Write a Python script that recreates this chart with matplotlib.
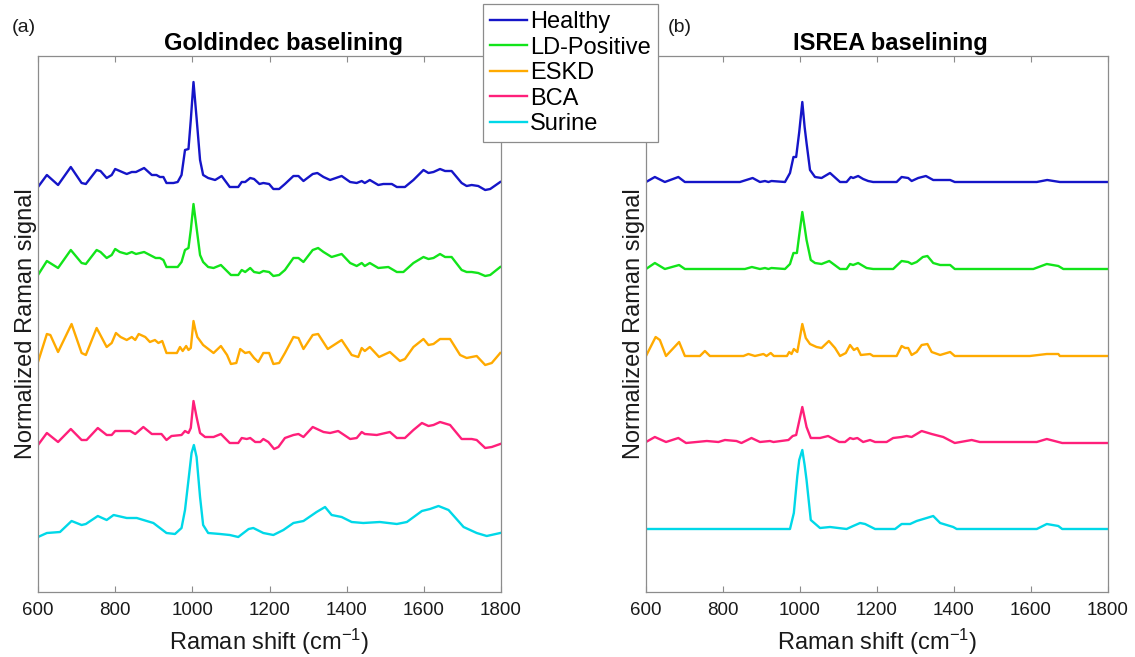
import matplotlib
matplotlib.use("Agg")
import matplotlib.pyplot as plt
import numpy as np

plt.rcParams['font.family'] = ['Liberation Sans', 'DejaVu Sans']
plt.rcParams['mathtext.fontset'] = 'custom'
plt.rcParams['mathtext.rm'] = 'Liberation Sans'
plt.rcParams['mathtext.it'] = 'Liberation Sans:italic'

## Data: Raman shift (cm-1) and normalized intensity
groups = ['Healthy', 'LD-Positive', 'ESKD', 'BCA', 'Surine']
colors = ['#1515c8', '#12e41a', '#ffaa00', '#ff1f7a', '#00d8e8']
ticks = [600, 800, 1000, 1200, 1400, 1600, 1800]

# (a) Goldindec baselining
gold_healthy_x = [600, 623, 652, 685, 713, 724, 752, 762, 778, 791, 800, 812, 830, 843, 854, 875,
                  895, 907, 916, 925, 933, 951, 962, 972, 981, 990, 996, 1003, 1011, 1020, 1028,
                  1041, 1059, 1076, 1097, 1119, 1128, 1137, 1150, 1160, 1174, 1184, 1199, 1210,
                  1225, 1240, 1262, 1275, 1288, 1312, 1324, 1340, 1357, 1387, 1409, 1426, 1439,
                  1447, 1460, 1482, 1495, 1517, 1530, 1551, 1573, 1599, 1612, 1625, 1642, 1655,
                  1672, 1698, 1711, 1724, 1741, 1759, 1772, 1798]
gold_healthy_y = [0.03, 0.15, 0.05, 0.23, 0.07, 0.06, 0.20, 0.19, 0.12, 0.15, 0.21, 0.19, 0.16, 0.18,
                  0.18, 0.22, 0.15, 0.15, 0.13, 0.13, 0.07, 0.07, 0.08, 0.15, 0.40, 0.41, 0.70, 1.08,
                  0.72, 0.30, 0.15, 0.12, 0.10, 0.14, 0.03, 0.03, 0.08, 0.08, 0.12, 0.11, 0.06, 0.07,
                  0.06, 0.01, 0.01, 0.06, 0.14, 0.14, 0.09, 0.16, 0.17, 0.13, 0.10, 0.14, 0.08, 0.07,
                  0.09, 0.07, 0.10, 0.05, 0.06, 0.06, 0.03, 0.03, 0.10, 0.20, 0.17, 0.18, 0.21, 0.19,
                  0.19, 0.07, 0.04, 0.05, 0.04, 0.00, 0.01, 0.08]

gold_ld_x = [600, 623, 652, 685, 713, 724, 752, 762, 778, 791, 800, 812, 830, 843, 854, 875, 890,
             905, 916, 925, 933, 951, 962, 972, 981, 990, 996, 1003, 1011, 1020, 1028, 1041, 1055,
             1074, 1100, 1119, 1128, 1137, 1150, 1160, 1174, 1184, 1199, 1210, 1225, 1240, 1262,
             1275, 1288, 1312, 1326, 1340, 1361, 1387, 1409, 1426, 1439, 1447, 1460, 1482, 1508,
             1530, 1547, 1573, 1599, 1612, 1625, 1642, 1655, 1672, 1698, 1711, 1724, 1741, 1759,
             1772, 1798]
gold_ld_y = [0.01, 0.15, 0.08, 0.26, 0.13, 0.12, 0.26, 0.24, 0.18, 0.21, 0.27, 0.24, 0.22, 0.24,
             0.22, 0.24, 0.21, 0.18, 0.18, 0.16, 0.09, 0.09, 0.09, 0.14, 0.26, 0.28, 0.46, 0.72,
             0.48, 0.21, 0.14, 0.09, 0.08, 0.11, 0.01, 0.01, 0.06, 0.04, 0.08, 0.04, 0.03, 0.05,
             0.04, 0.00, 0.01, 0.06, 0.18, 0.18, 0.14, 0.26, 0.28, 0.24, 0.19, 0.22, 0.13, 0.10,
             0.13, 0.10, 0.13, 0.08, 0.09, 0.04, 0.04, 0.13, 0.19, 0.17, 0.18, 0.22, 0.19, 0.19,
             0.06, 0.04, 0.04, 0.03, 0.00, 0.01, 0.09]

gold_eskd_x = [600, 623, 632, 652, 687, 713, 724, 752, 778, 791, 802, 814, 830, 843, 852, 861, 878,
               890, 903, 912, 922, 933, 951, 960, 968, 975, 984, 990, 996, 1003, 1008, 1013, 1028,
               1055, 1074, 1090, 1100, 1114, 1124, 1137, 1148, 1160, 1171, 1184, 1199, 1210, 1225,
               1240, 1262, 1275, 1288, 1312, 1326, 1351, 1387, 1413, 1430, 1439, 1447, 1460, 1484,
               1512, 1538, 1551, 1573, 1599, 1612, 1625, 1642, 1668, 1694, 1711, 1724, 1737, 1759,
               1776, 1798]
gold_eskd_y = [0.03, 0.31, 0.30, 0.13, 0.41, 0.12, 0.10, 0.37, 0.18, 0.22, 0.32, 0.28, 0.25, 0.28,
               0.25, 0.31, 0.28, 0.23, 0.25, 0.22, 0.24, 0.12, 0.12, 0.12, 0.18, 0.14, 0.19, 0.15,
               0.17, 0.44, 0.35, 0.28, 0.20, 0.12, 0.19, 0.10, 0.01, 0.02, 0.16, 0.12, 0.13, 0.07,
               0.03, 0.12, 0.12, 0.01, 0.02, 0.12, 0.28, 0.27, 0.16, 0.30, 0.31, 0.16, 0.25, 0.10,
               0.08, 0.17, 0.14, 0.18, 0.08, 0.13, 0.04, 0.06, 0.18, 0.26, 0.20, 0.21, 0.26, 0.26,
               0.10, 0.07, 0.08, 0.09, 0.00, 0.02, 0.12]

gold_bca_x = [600, 623, 652, 685, 713, 726, 755, 778, 791, 800, 839, 852, 873, 895, 920, 933, 946,
              972, 981, 990, 996, 1003, 1011, 1020, 1033, 1055, 1074, 1097, 1119, 1128, 1141, 1150,
              1163, 1176, 1184, 1197, 1212, 1223, 1240, 1262, 1275, 1288, 1312, 1340, 1357, 1378,
              1409, 1426, 1439, 1447, 1478, 1512, 1530, 1551, 1573, 1595, 1612, 1625, 1642, 1668,
              1698, 1724, 1737, 1759, 1776, 1798]
gold_bca_y = [0.05, 0.17, 0.08, 0.21, 0.10, 0.10, 0.22, 0.15, 0.15, 0.19, 0.19, 0.16, 0.23, 0.16,
              0.16, 0.10, 0.14, 0.15, 0.19, 0.17, 0.22, 0.49, 0.33, 0.17, 0.13, 0.13, 0.16, 0.07,
              0.07, 0.12, 0.11, 0.12, 0.08, 0.08, 0.11, 0.08, 0.01, 0.03, 0.12, 0.15, 0.16, 0.13,
              0.23, 0.18, 0.17, 0.19, 0.11, 0.12, 0.18, 0.16, 0.15, 0.18, 0.12, 0.12, 0.20, 0.27,
              0.24, 0.25, 0.28, 0.25, 0.11, 0.11, 0.10, 0.02, 0.03, 0.06]

gold_surine_x = [600, 623, 657, 687, 713, 724, 755, 778, 796, 830, 856, 899, 933, 955, 972, 981,
                 990, 998, 1004, 1011, 1020, 1028, 1041, 1072, 1097, 1119, 1146, 1158, 1184, 1210,
                 1236, 1262, 1288, 1322, 1344, 1361, 1387, 1413, 1443, 1486, 1530, 1556, 1595, 1616,
                 1638, 1664, 1703, 1737, 1763, 1798]
gold_surine_y = [0.01, 0.05, 0.06, 0.17, 0.13, 0.14, 0.22, 0.18, 0.23, 0.20, 0.20, 0.15, 0.05, 0.04,
                 0.10, 0.28, 0.58, 0.85, 0.93, 0.81, 0.41, 0.13, 0.05, 0.04, 0.03, 0.01, 0.09, 0.10,
                 0.05, 0.03, 0.08, 0.15, 0.17, 0.26, 0.31, 0.23, 0.21, 0.16, 0.15, 0.16, 0.14, 0.16,
                 0.27, 0.29, 0.32, 0.28, 0.11, 0.05, 0.02, 0.05]

# (b) ISREA baselining
isrea_healthy_x = [600, 623, 649, 684, 701, 844, 877, 896, 909, 918, 926, 961, 974, 983, 990, 998,
                   1006, 1012, 1017, 1026, 1039, 1056, 1078, 1104, 1121, 1132, 1138, 1151, 1164,
                   1177, 1190, 1251, 1264, 1281, 1290, 1307, 1327, 1346, 1390, 1402, 1615, 1642,
                   1675, 1800]
isrea_healthy_y = [0, 0.05, 0, 0.05, 0, 0, 0.04, 0, 0.01, 0, 0.01, 0, 0.09, 0.25, 0.25, 0.50, 0.80,
                   0.55, 0.39, 0.12, 0.05, 0.04, 0.09, 0, 0, 0.05, 0.04, 0.06, 0.03, 0.01, 0, 0,
                   0.05, 0.04, 0.01, 0.04, 0.06, 0.02, 0.02, 0, 0, 0.02, 0, 0]

isrea_ld_x = [600, 623, 649, 686, 701, 857, 875, 896, 909, 918, 926, 961, 974, 983, 992, 998, 1006,
              1012, 1017, 1028, 1039, 1056, 1076, 1104, 1121, 1130, 1138, 1151, 1173, 1190, 1242,
              1264, 1281, 1290, 1303, 1319, 1331, 1346, 1364, 1390, 1402, 1606, 1641, 1671, 1684,
              1800]
isrea_ld_y = [0, 0.06, 0, 0.04, 0, 0, 0.02, 0, 0.01, 0, 0.01, 0, 0.05, 0.16, 0.16, 0.34, 0.57, 0.42,
              0.29, 0.09, 0.06, 0.05, 0.08, 0, 0, 0.05, 0.04, 0.06, 0.01, 0, 0, 0.08, 0.07, 0.05,
              0.07, 0.12, 0.13, 0.06, 0.04, 0.04, 0, 0, 0.05, 0.03, 0, 0]

isrea_eskd_x = [600, 625, 636, 652, 686, 701, 740, 753, 766, 853, 866, 883, 905, 913, 924, 932, 966,
                972, 978, 984, 993, 1006, 1015, 1026, 1043, 1056, 1075, 1091, 1104, 1119, 1130,
                1140, 1149, 1158, 1182, 1190, 1251, 1264, 1273, 1281, 1290, 1303, 1316, 1331, 1342,
                1364, 1390, 1402, 1597, 1641, 1671, 1675, 1800]
isrea_eskd_y = [0, 0.19, 0.16, 0, 0.14, 0, 0, 0.05, 0, 0, 0.02, 0, 0.02, 0, 0.03, 0, 0, 0.04, 0.02,
                0.07, 0.04, 0.32, 0.18, 0.12, 0.09, 0.08, 0.15, 0.08, 0, 0.03, 0.11, 0.06, 0.08,
                0.01, 0.02, 0, 0, 0.10, 0.08, 0.08, 0.01, 0.04, 0.11, 0.12, 0.04, 0.01, 0.04, 0, 0,
                0.02, 0.02, 0, 0]

isrea_bca_x = [600, 623, 652, 684, 704, 758, 788, 805, 835, 848, 874, 896, 922, 931, 970, 981, 990,
               1006, 1017, 1028, 1052, 1073, 1102, 1117, 1130, 1138, 1149, 1164, 1182, 1195, 1225,
               1242, 1264, 1277, 1290, 1316, 1342, 1372, 1402, 1446, 1467, 1615, 1641, 1681, 1800]
isrea_bca_y = [0.01, 0.06, 0.01, 0.05, 0, 0.02, 0.01, 0.03, 0.02, 0, 0.05, 0.01, 0.02, 0.01, 0.03,
               0.07, 0.08, 0.36, 0.16, 0.05, 0.05, 0.07, 0.01, 0.01, 0.05, 0.04, 0.05, 0.01, 0.03,
               0.01, 0.01, 0.05, 0.06, 0.07, 0.06, 0.12, 0.09, 0.06, 0, 0.03, 0.01, 0.01, 0.04, 0, 0]

isrea_surine_x = [600, 974, 984, 993, 998, 1006, 1012, 1017, 1028, 1052, 1078, 1121, 1138, 1156,
                  1169, 1195, 1247, 1264, 1286, 1303, 1329, 1346, 1364, 1398, 1407, 1615, 1641,
                  1671, 1681, 1800]
isrea_surine_y = [0, 0, 0.16, 0.53, 0.69, 0.79, 0.64, 0.49, 0.09, 0.01, 0.02, 0, 0.03, 0.06, 0.05,
                  0, 0, 0.05, 0.05, 0.08, 0.11, 0.13, 0.06, 0.02, 0, 0, 0.05, 0.03, 0, 0]

# vertical stacking offsets of the traces
gold_offsets = [4.02, 3.16, 2.27, 1.42, 0.54]
isrea_offsets = [4.10, 3.23, 2.36, 1.49, 0.63]

gold = [(gold_healthy_x, gold_healthy_y), (gold_ld_x, gold_ld_y), (gold_eskd_x, gold_eskd_y),
        (gold_bca_x, gold_bca_y), (gold_surine_x, gold_surine_y)]
isrea = [(isrea_healthy_x, isrea_healthy_y), (isrea_ld_x, isrea_ld_y),
         (isrea_eskd_x, isrea_eskd_y), (isrea_bca_x, isrea_bca_y),
         (isrea_surine_x, isrea_surine_y)]

W, H = 1135, 657
fig = plt.figure(figsize=(W / 100, H / 100), dpi=100)

def px_axes(x0, x1, y0, y1):
    return fig.add_axes([x0 / W, 1 - y1 / H, (x1 - x0) / W, (y1 - y0) / H])

ax_a = px_axes(38, 501, 56, 592)
ax_b = px_axes(646, 1108, 56, 592)

edge = '#8c8c8c'
ink = '#1a1a1a'
for ax, spectra, offsets, title in [(ax_a, gold, gold_offsets, 'Goldindec baselining'),
                                    (ax_b, isrea, isrea_offsets, 'ISREA baselining')]:
    for (x, y), off, c, name in zip(spectra, offsets, colors, groups):
        ax.plot(x, np.array(y) + off, color=c, lw=1.7, label=name,
                solid_joinstyle='round')
    ax.set_xlim(600, 1800)
    ax.set_ylim(0, 5.36)
    ax.set_xticks(ticks)
    ax.set_yticks([])
    ax.tick_params(axis='x', direction='in', top=True, length=4, width=0.8,
                   color=edge, labelsize=13.5, labelcolor=ink, pad=7)
    for s in ax.spines.values():
        s.set_color(edge)
        s.set_linewidth(0.9)
    ax.set_xlabel('Raman shift (cm$^{-1}$)', fontsize=17, color=ink, labelpad=6)
    ax.set_ylabel('Normalized Raman signal', fontsize=17, color=ink, labelpad=1)
    ax.set_title(title, fontsize=17, fontweight='bold', x=0.53, pad=4)

fig.text(12 / W, 1 - 28 / H, '(a)', fontsize=14, va='center', ha='left', color=ink)
fig.text(668 / W, 1 - 28 / H, '(b)', fontsize=14, va='center', ha='left', color=ink)

handles, labels = ax_a.get_legend_handles_labels()
leg = fig.legend(handles, labels, loc='upper left', bbox_to_anchor=(483 / W, 1 - 4 / H),
                 bbox_transform=fig.transFigure, borderaxespad=0, fontsize=17,
                 handlelength=1.57, handletextpad=0.13, labelspacing=0.15, borderpad=0.3,
                 fancybox=False, framealpha=1, edgecolor=edge)
leg.get_frame().set_linewidth(0.9)

fig.savefig('out.png', dpi=100)
